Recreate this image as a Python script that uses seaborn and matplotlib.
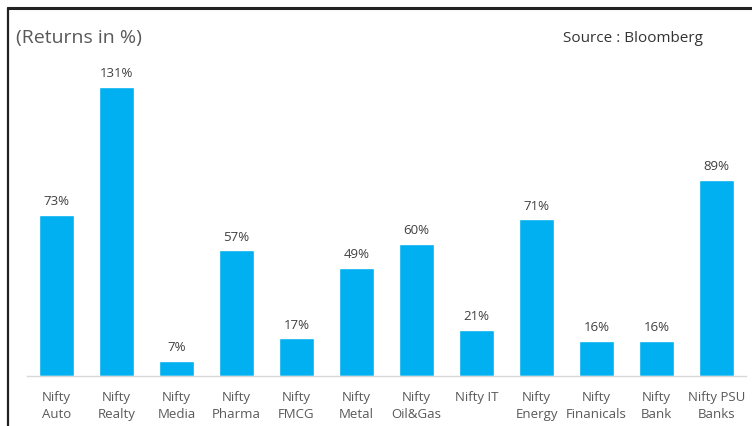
import matplotlib
matplotlib.use("Agg")
import matplotlib.pyplot as plt
import pandas as pd
import seaborn as sns

sectors = ["Nifty\nAuto", "Nifty\nRealty", "Nifty\nMedia", "Nifty\nPharma", "Nifty\nFMCG", "Nifty\nMetal",
           "Nifty\nOil&Gas", "Nifty IT", "Nifty\nEnergy", "Nifty\nFinanicals", "Nifty\nBank", "Nifty PSU\nBanks"]
returns = [73, 131, 7, 57, 17, 49, 60, 21, 71, 16, 16, 89]

sns.set_theme(style="white")
plt.rcParams["font.family"] = ["Open Sans", "DejaVu Sans"]
BLUE = "#00B0F0"

df = pd.DataFrame({"sector": sectors, "ret": returns})

fig = plt.figure(figsize=(7.52, 4.27), dpi=100)
W, H = 752, 427
ax = fig.add_axes([27 / W, 50 / H, (746 - 27) / W, 317 / H])
sns.barplot(data=df, x="sector", y="ret", color=BLUE, saturation=1, width=0.58, ax=ax)
ax.set_xlim(-0.49, 11.49)
ax.set_ylim(0, 317 / 2.206)
ax.set_xlabel(""); ax.set_ylabel("")
ax.set_yticks([])
for s in ["top", "right", "left"]:
    ax.spines[s].set_visible(False)
ax.spines["bottom"].set_color("#d9d9d9")
ax.spines["bottom"].set_linewidth(1)
ax.tick_params(axis="x", length=0, pad=10, labelsize=9.5, labelcolor="#595959")
for lbl in ax.get_xticklabels():
    lbl.set_linespacing(1.4)

for i, v in enumerate(returns):
    ax.annotate(f"{v}%", (i, v), xytext=(0, 5.5), textcoords="offset points",
                ha="center", va="bottom", fontsize=9.5, color="#404040")

fig.text(16 / W, 1 - 38 / H, "(Returns in %)", fontsize=14, color="#595959", va="center", ha="left")
fig.text(563 / W, 1 - 38 / H, "Source : Bloomberg", fontsize=11, color="#333333", va="center", ha="left")

# frame lines (top and left)
fig.add_artist(plt.Line2D([8 / W, 1], [1 - 9 / H, 1 - 9 / H], color="#222222", lw=2.2, transform=fig.transFigure))
fig.add_artist(plt.Line2D([8 / W, 8 / W], [0, 1 - 9 / H], color="#222222", lw=1.6, transform=fig.transFigure))

fig.savefig("out.png", dpi=100)
